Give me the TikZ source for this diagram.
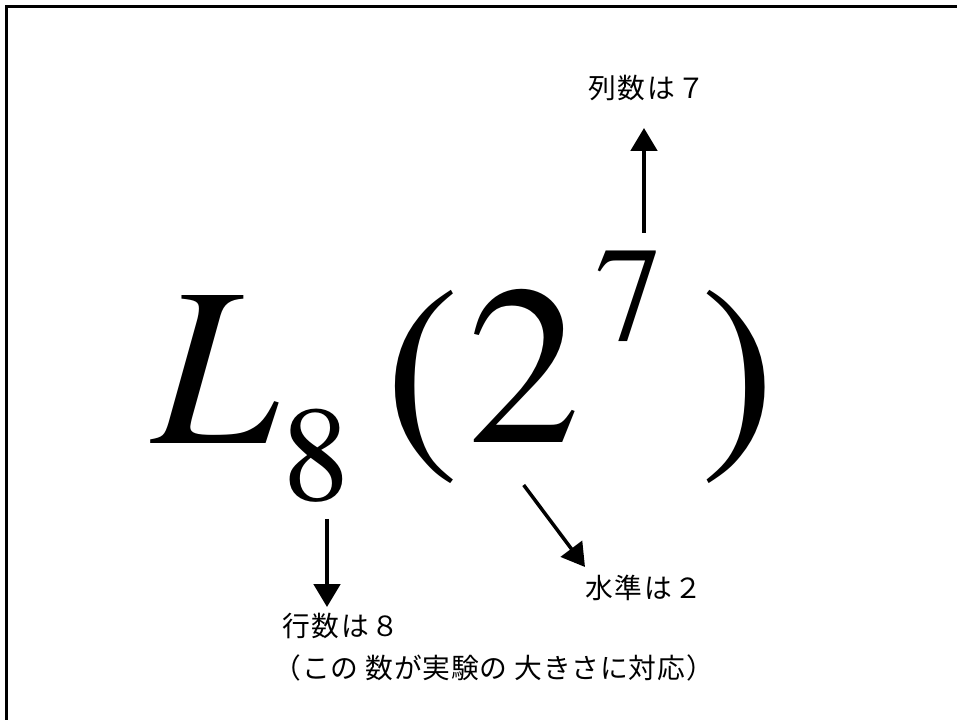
\documentclass[tikz,border=0pt]{standalone}
\usepackage{fontspec}
\newfontfamily\jpfont{Noto Sans CJK JP}[LetterSpace=7]
\newfontfamily\jptight{Noto Sans CJK JP}[LetterSpace=3]
\newfontfamily\formfont{texgyretermes}[Extension=.otf, UprightFont=*-regular, ItalicFont=*-italic]
\usepackage{tikz}
\usetikzlibrary{arrows.meta, positioning, calc}

\begin{document}
\begin{tikzpicture}[
  x=0.02cm, y=-0.02cm,
  glyph/.style={inner sep=0pt, outer sep=0pt, anchor=base west, font=\formfont\fontsize{129}{130}\selectfont},
  index/.style={glyph, font=\formfont\fontsize{77}{78}\selectfont},
  note/.style={inner sep=0pt, outer sep=0pt, anchor=west, font=\jpfont\fontsize{15.8}{23.8}\selectfont},
  arrow/.style={-{Triangle[length=13pt, width=15pt]}, line width=2pt}
]
\useasboundingbox (0,0) rectangle (957,720);

% Frame
\draw[line width=1.7pt] (6.5,720) -- (6.5,6.5) -- (957,6.5);

% Formula
\node[glyph, font=\formfont\itshape\fontsize{129}{130}\selectfont] (nL) at (152,443) {L};
\node[index] (n8) at (282,500) {8};
\node[glyph] (lpar) at (384,443) {(};
\node[glyph] (n2) at (467,442) {2};
\node[index] (n7) at (595,340) {7};
\node[glyph] (rpar) at (700,443) {)};

% Labels
\node[note] (cols) at (588,88) {列数は７};
\node[note] (levels) at (585,588) {水準は２};
\node[note, anchor=north west, align=left] (rows) at (282,613) {行数は８\\{\jptight\hspace*{-0.3em}（この\hspace{0.25em}数が実験の\hspace{0.25em}大きさに対応）}};

% Arrows
\coordinate (coltip) at (644,128);
\coordinate (rowtip) at (327,607);
\coordinate (lvtip) at (585,567);
\draw[arrow, shorten <=10pt] (n7.north -| coltip) -- (coltip);
\draw[arrow, shorten <=9.6pt] (n8.south -| rowtip) -- (rowtip);
\draw[arrow] ($(n2.south)+(0,43)$) -- (lvtip);

\end{tikzpicture}
\end{document}
